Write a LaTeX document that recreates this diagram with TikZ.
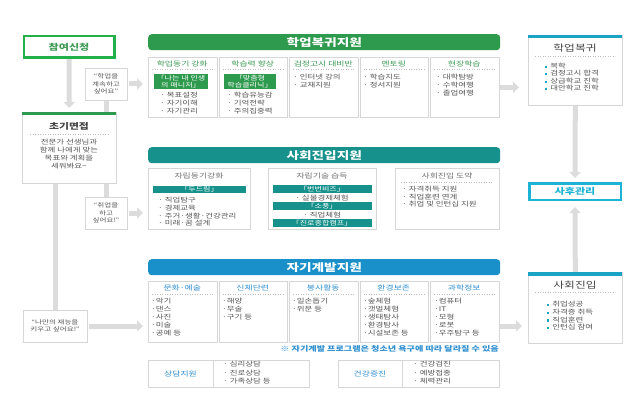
\documentclass[tikz,border=0pt]{standalone}
\usepackage{fontspec}
\setmainfont{Noto Sans CJK KR}[FakeStretch=1.3]
\usetikzlibrary{arrows.meta,backgrounds}
\definecolor{gr}{HTML}{2E9A4E}
\definecolor{grt}{HTML}{3E9B55}
\definecolor{grb}{HTML}{22B04A}
\definecolor{tl}{HTML}{16918B}
\definecolor{bl}{HTML}{1A90CB}
\definecolor{blt}{HTML}{2E8FD0}
\definecolor{cy}{HTML}{1CB3D6}
\definecolor{rb}{HTML}{1AA3C4}
\definecolor{tx}{HTML}{555555}
\definecolor{hx}{HTML}{444444}
\definecolor{hg}{HTML}{707070}
\definecolor{ar}{HTML}{DCDCDC}
\definecolor{bd}{HTML}{D6D6D6}
\newcommand{\sqb}{{\color{rb}\rule[0.6pt]{2.2pt}{2.2pt}}\hspace{3pt}}
\begin{document}
\begin{tikzpicture}[x=1pt,y=-1pt,
 box/.style={draw=bd, fill=white, line width=0.6pt, inner sep=0pt, anchor=north west},
 bar/.style={rounded corners=3.5pt, inner sep=0pt, text=white, font=\fontsize{10.5}{12}\selectfont\bfseries, minimum width=352pt, minimum height=16pt, anchor=north west},
 lst/.style={anchor=north west, inner sep=0pt, align=left, text=tx, font=\fontsize{6.5}{8}\selectfont},
 hd/.style={inner sep=0pt, font=\fontsize{6.8}{8}\selectfont},
 lab/.style={inner sep=0pt, text=white, align=center, font=\fontsize{6.2}{7}\selectfont},
 arr/.style={draw=ar, line width=5pt, -{Triangle[length=6pt,width=11pt]}},
 conn/.style={draw=ar, line width=5pt},
 quote/.style={draw=bd, fill=white, line width=0.6pt, align=center, text=tx, font=\fontsize{5.8}{7.5}\selectfont, inner sep=0pt},
 dots/.style={draw=gray!50, dotted, line width=0.5pt}]
\useasboundingbox (0,0) rectangle (639,401);

% ---------- left column ----------
\node[draw=grb, line width=2.5pt, fill=white, minimum width=90.5pt, minimum height=21.5pt, inner sep=0pt, text=grt, font=\fontsize{8.5}{10}\selectfont\bfseries] (apply) at (69,47) {참여신청};

\node[box, minimum width=94pt, minimum height=71pt] (intv) at (22,112) {};
\fill[gr] (intv.north west) rectangle ++(94,3.5);
\node[inner sep=0pt, text=hx, font=\fontsize{8.3}{10}\selectfont\bfseries] (intvt) at (69,126) {초기면접};
\draw[dots] (30,134) -- (108,134);
\node[inner sep=0pt, align=center, text=tx, font=\fontsize{6.5}{8.2}\selectfont] (intvx) at (69,154) {전문가 선생님과\\함께 나에게 맞는\\목표와 계획을\\세워봐요{\char"7E}};

\node[quote, minimum width=42pt, minimum height=32pt] (q1) at (106,84) {“학업을\\계속하고\\싶어요”};
\node[quote, minimum width=42pt, minimum height=32pt] (q2) at (106,213) {“취업을\\하고\\싶어요!”};
\node[quote, minimum width=64pt, minimum height=32pt] (q3) at (55,326) {“나만의 재능을\\키우고 싶어요!”};

% ---------- section bars ----------
\node[bar, fill=gr] (bar1) at (148,34) {학업복귀지원};
\node[bar, fill=tl] (bar2) at (148,147) {사회진입지원};
\node[bar, fill=bl] (bar3) at (148,259) {자기계발지원};

% ---------- row 1 ----------
\foreach \i/\x in {a/148,b/218.5,c/289,d/359.5,e/430}{
  \node[box, minimum width=68.5pt, minimum height=60pt] (r1\i) at (\x,57) {};
  \draw[dots] (\x+4,69.5) -- (\x+64.5,69.5);
}
\node[hd, text=grt] (h1a) at (182.25,63.5) {학업동기 강화};
\node[hd, text=grt] (h1b) at (252.75,63.5) {학습력 향상};
\node[hd, text=grt] (h1c) at (323.25,63.5) {검정고시 대비반};
\node[hd, text=grt] (h1d) at (393.75,63.5) {멘토링};
\node[hd, text=grt] (h1e) at (464.25,63.5) {현장학습};
\node[lab, fill=gr, minimum width=54pt, minimum height=15pt] (l1a) at (181,81.5) {「나는 내 인생\\의 매니저」};
\node[lab, fill=gr, minimum width=52pt, minimum height=15pt] (l1b) at (250,81.5) {「맞춤형\\학습클리닉」};
\node[lst] (t1a) at (160,92.3) {· 목표설정\\· 자기이해\\· 자기관리};
\node[lst] (t1b) at (227,92.3) {· 학습유능감\\· 기억전략\\· 주의집중력};
\node[lst] (t1c) at (293,74.3) {· 인터넷 강의\\· 교재지원};
\node[lst] (t1d) at (363,74.3) {· 학습지도\\· 정서지원};
\node[lst] (t1e) at (436,74.3) {· 대학탐방\\· 수학여행\\· 졸업여행};

% ---------- row 2 ----------
\node[box, minimum width=102pt, minimum height=61pt] (r2a) at (148,168) {};
\node[box, minimum width=108pt, minimum height=61pt] (r2b) at (268,168) {};
\node[box, minimum width=104pt, minimum height=61pt] (r2c) at (395,168) {};
\node[hd, text=hg] (h2a) at (199,176) {자립동기강화};
\node[hd, text=hg] (h2b) at (322,176) {자립기술 습득};
\node[hd, text=hg] (h2c) at (447,176) {사회진입 도약};
\draw[dots] (401,182.5) -- (493,182.5);
\node[lab, fill=tl, minimum width=93pt, minimum height=7.5pt] (l2a) at (199.5,189.5) {「두드림」};
\node[lst, font=\fontsize{6.5}{7.7}\selectfont] (t2a) at (158,197.3) {· 직업탐구\\· 경제교육\\· 주거·생활·건강관리\\· 미래·꿈 설계};
\node[lab, fill=tl, minimum width=99pt, minimum height=8pt] (l2b1) at (322,189) {「번번비즈」};
\node[lst, anchor=north, align=center] (t2b1) at (322,194.5) {· 실물경제체험};
\node[lab, fill=tl, minimum width=99pt, minimum height=8pt] (l2b2) at (322,206) {「소풍」};
\node[lst, anchor=north, align=center] (t2b2) at (322,211.5) {· 직업체험};
\node[lab, fill=tl, minimum width=99pt, minimum height=8pt] (l2b3) at (322,223) {「진로종합캠프」};
\node[lst, font=\fontsize{6.5}{7.2}\selectfont] (t2c) at (402,186.3) {· 자격취득 지원\\· 직업훈련 연계\\· 취업 및 인턴십 지원};

% ---------- row 3 ----------
\foreach \i/\x in {a/148,b/218.5,c/289,d/359.5,e/430}{
  \node[box, minimum width=68.5pt, minimum height=61pt] (r3\i) at (\x,281) {};
  \draw[dots] (\x+4,294.5) -- (\x+64.5,294.5);
}
\node[hd, text=blt] (h3a) at (182.25,288) {문화·예술};
\node[hd, text=blt] (h3b) at (252.75,288) {신체단련};
\node[hd, text=blt] (h3c) at (323.25,288) {봉사활동};
\node[hd, text=blt] (h3d) at (393.75,288) {환경보존};
\node[hd, text=blt] (h3e) at (464.25,288) {과학정보};
\node[lst] (t3a) at (151,298.3) {·악기\\·댄스\\·사진\\·미술\\·공예 등};
\node[lst] (t3b) at (222,298.3) {·해양\\·무술\\·구기 등};
\node[lst] (t3c) at (292,298.3) {·일손돕기\\·위문 등};
\node[lst] (t3d) at (363,298.3) {·숲체험\\·갯벌체험\\·생태탐사\\·환경탐사\\·시설보존 등};
\node[lst] (t3e) at (434,298.3) {·컴퓨터\\·IT\\·모형\\·로봇\\·우주탐구 등};
\node[anchor=east, inner sep=0pt, text=blt, font=\fontsize{7}{8}\selectfont\bfseries] (note) at (499,349) {※ 자기계발 프로그램은 청소년 욕구에 따라 달라질 수 있음};

\node[box, minimum width=161pt, minimum height=27pt] (cs) at (148,360) {};
\draw[draw=bd, line width=0.6pt] (213,360) -- (213,387);
\node[hd, text=blt] (cst) at (180.5,373.5) {상담지원};
\node[lst, font=\fontsize{6.5}{8.5}\selectfont] (csl) at (223,361.3) {· 심리상담\\· 진로상담\\· 가족상담 등};
\node[box, minimum width=161pt, minimum height=27pt] (hl) at (338,360) {};
\draw[draw=bd, line width=0.6pt] (402,360) -- (402,387);
\node[hd, text=blt] (hlt) at (370,373.5) {건강증진};
\node[lst, font=\fontsize{6.5}{8.5}\selectfont] (hll) at (413,361.3) {· 건강검진\\· 예방접종\\· 체력관리};

% ---------- right column ----------
\node[box, minimum width=94pt, minimum height=70pt] (ret) at (528,35) {};
\fill[rb] (ret.north west) rectangle ++(94,3.5);
\node[inner sep=0pt, text=hx, font=\fontsize{9}{10}\selectfont] (rett) at (575,48.5) {학업복귀};
\draw[dots] (535,56) -- (615,56);
\node[lst, font=\fontsize{6.5}{7.5}\selectfont] (retl) at (545,62.8) {\sqb 복학\\\sqb 검정고시 합격\\\sqb 상급학교 진학\\\sqb 대안학교 진학};

\node[draw=cy, line width=2.5pt, fill=white, minimum width=91.5pt, minimum height=16.5pt, inner sep=0pt, text=cy, font=\fontsize{8.5}{10}\selectfont\bfseries] (aft) at (575,191.5) {사후관리};

\node[box, minimum width=94pt, minimum height=71pt] (soc) at (528,272) {};
\fill[rb] (soc.north west) rectangle ++(94,3.5);
\node[inner sep=0pt, text=hx, font=\fontsize{9}{10}\selectfont] (soct) at (575,285) {사회진입};
\draw[dots] (535,292) -- (615,292);
\node[lst, font=\fontsize{6.5}{7.7}\selectfont] (socl) at (547,301.3) {\sqb 취업성공\\\sqb 자격증 취득\\\sqb 직업훈련\\\sqb 인턴십 참여};

% ---------- connectors ----------
\begin{scope}[on background layer]
\fill[white] (0,0) rectangle (639,401);
\draw[arr, shorten >=4pt] (apply.south) -- (intv.north);
\draw[conn] (q1.south) -- (q1.south |- intv.north);
\draw[conn] (q2.north) -- (q2.north |- intv.south);
\draw[conn] (q3.north) -- (q3.north |- intv.south);
\draw[arr, shorten <=2pt, shorten >=5pt] (q1.east) -- (q1.east -| r1a.west);
\draw[arr, shorten <=2pt, shorten >=5pt] (q2.east) -- (q2.east -| r2a.west);
\draw[arr, shorten <=2pt, shorten >=5pt] (q3.east) -- (q3.east -| r3a.west);
\draw[arr, shorten >=9pt] (r1e.east) -- (r1e.east -| ret.west);
\draw[arr, shorten >=6pt] (q3.east -| r3e.east) -- (q3.east -| soc.west);
\draw[arr, shorten >=4pt] (ret.south) -- (aft.north);
\draw[arr, shorten >=6pt] (soc.north) -- (aft.south);
\end{scope}
\end{tikzpicture}
\end{document}
